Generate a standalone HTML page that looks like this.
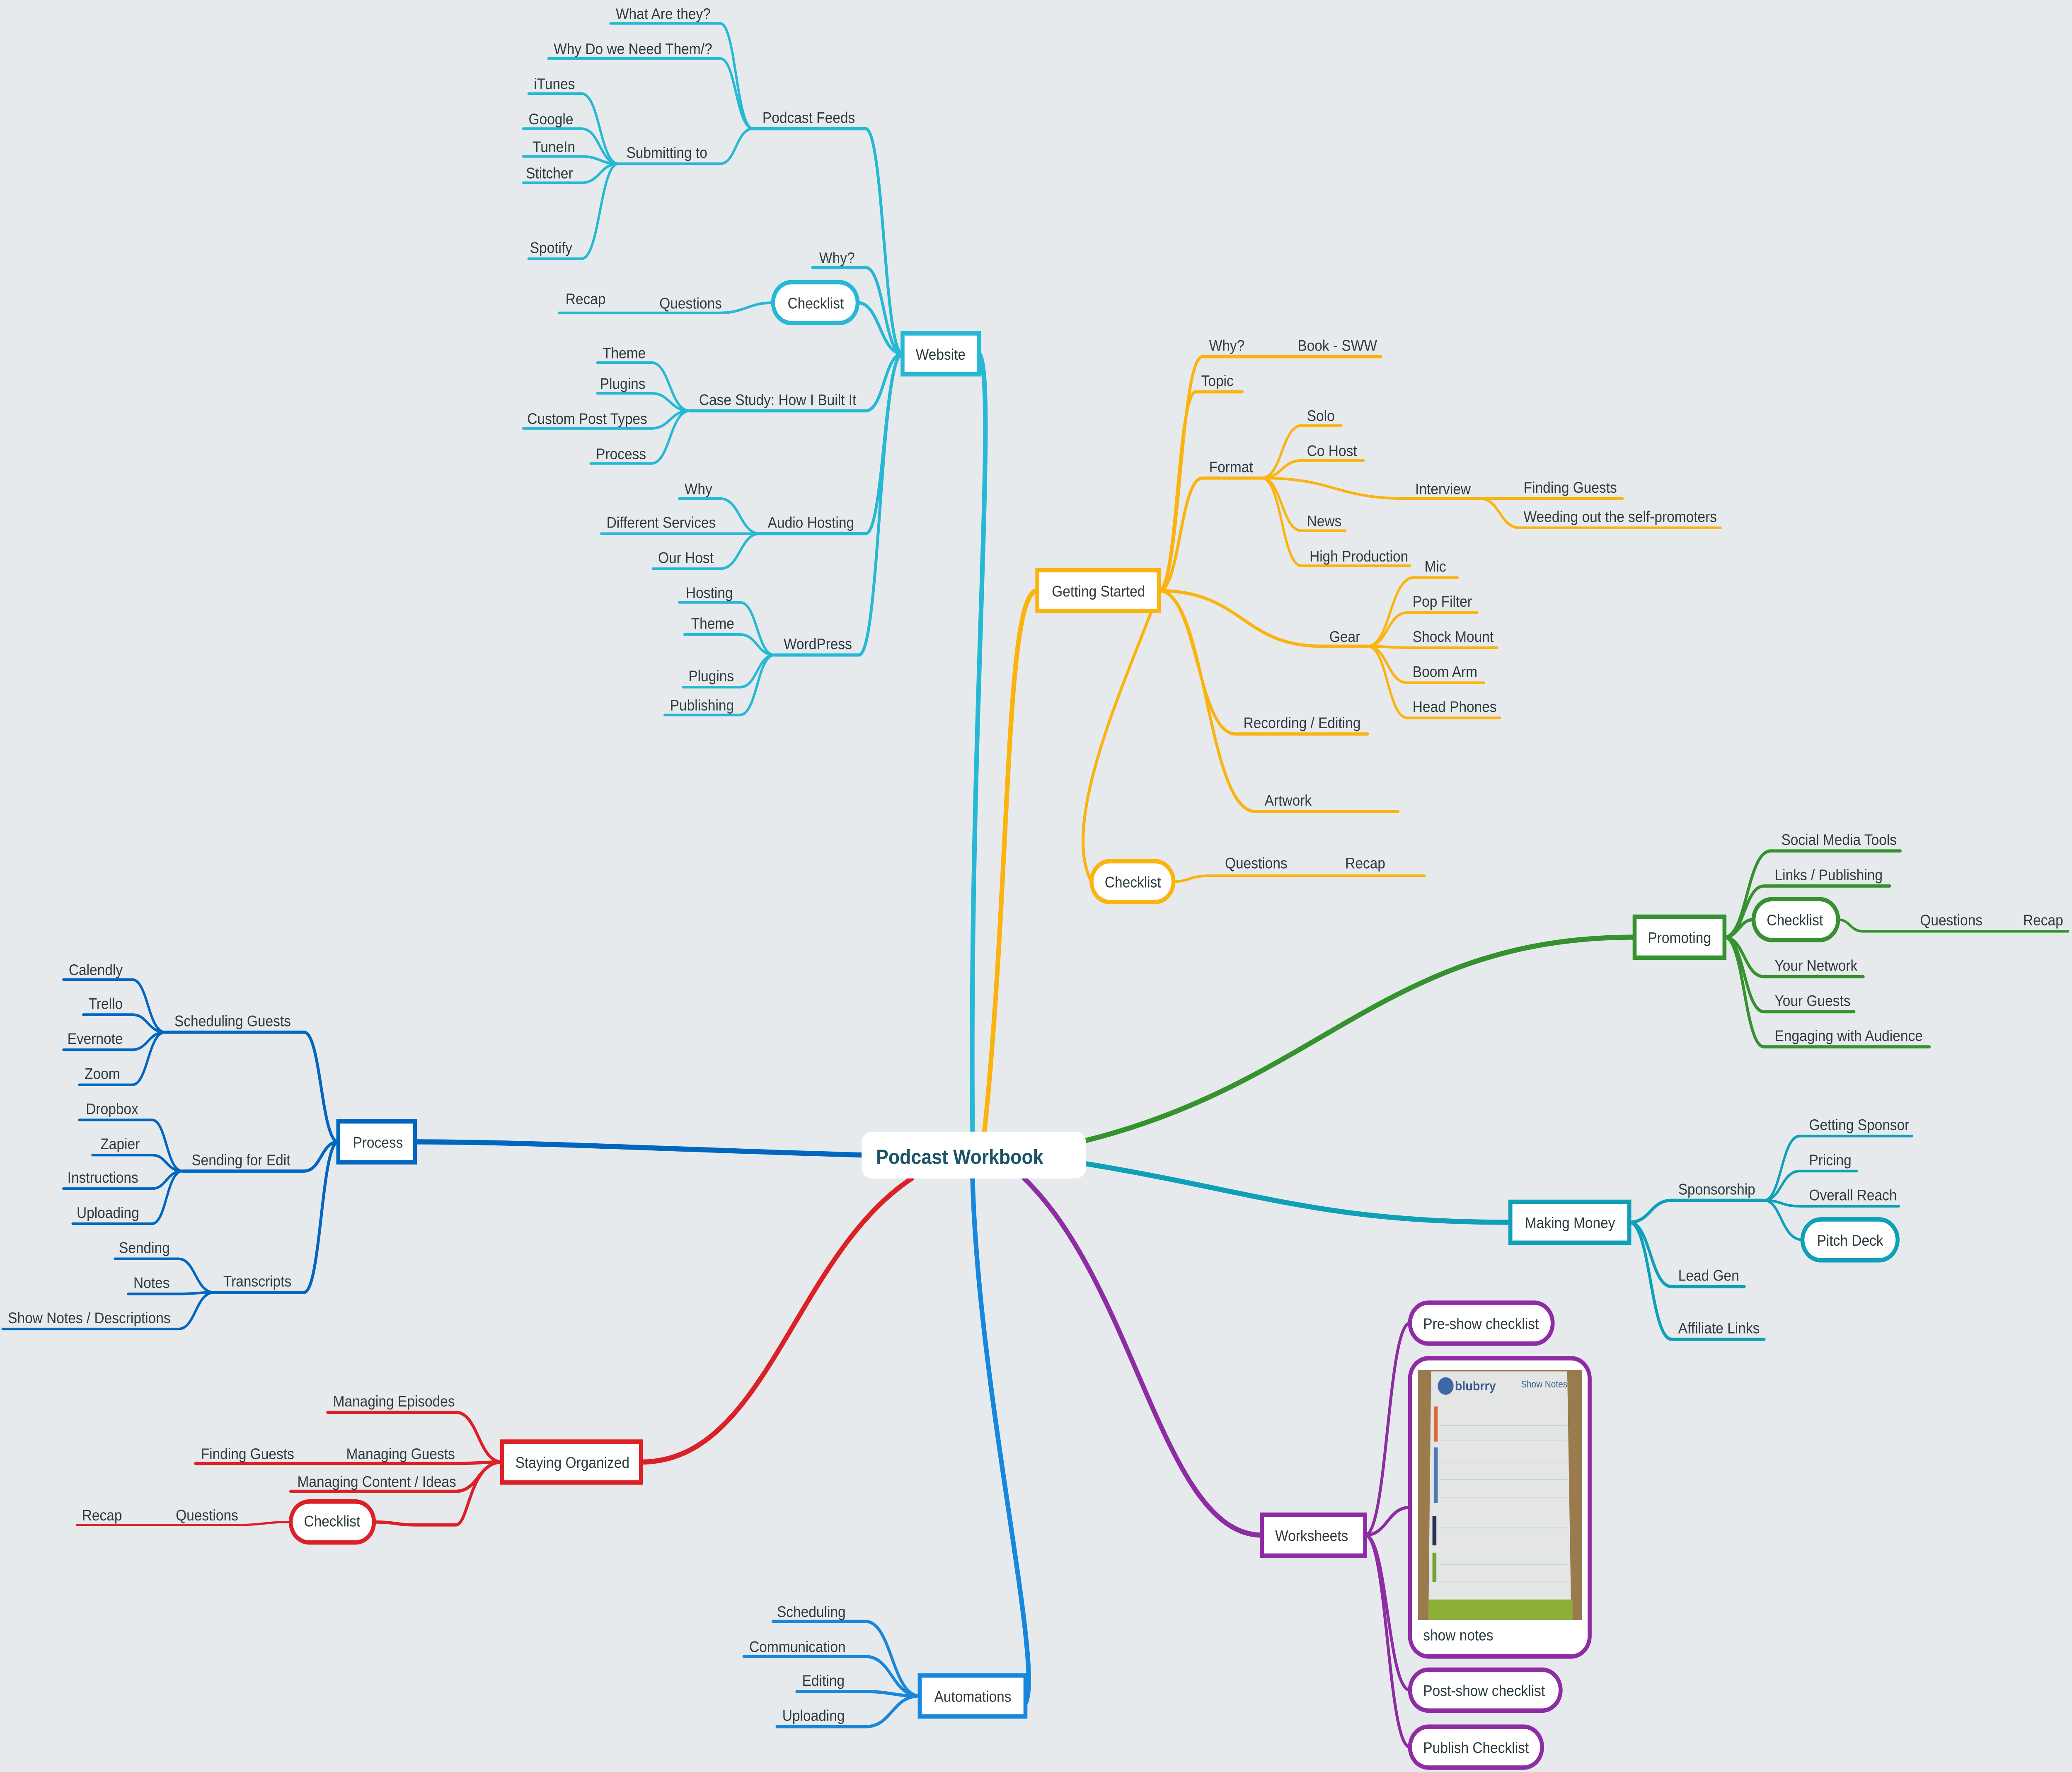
<!DOCTYPE html>
<html><head><meta charset="utf-8"><style>
html,body{margin:0;padding:0;background:#e6eaed;overflow:hidden;width:100%;height:100%;}
svg{display:block;position:fixed;left:0;top:0;width:100vw;height:100vh;}
text{font-family:"Liberation Sans",sans-serif;font-size:10.5px;fill:#2d3a40;}
</style></head><body>
<svg viewBox="0 0 1568 1212" preserveAspectRatio="none" xmlns="http://www.w3.org/2000/svg">
<rect width="1568" height="1212" fill="#e6eaed"/>
<g fill="none" stroke-linecap="round">
<path d="M736,774 C733,500 755,260 741,242" stroke="#26b8d4" stroke-width="3.5"/>
<path d="M745,774 C765,600 760,404 785,404" stroke="#fbb30f" stroke-width="3.5"/>
<path d="M822,780 C1000,740 1050,641 1237,641" stroke="#35922f" stroke-width="3.5"/>
<path d="M822,796 C950,815 1000,836 1143,836" stroke="#0fa0b8" stroke-width="3.5"/>
<path d="M775,806 C860,880 880,1050 955,1050" stroke="#8e2ca3" stroke-width="3.5"/>
<path d="M736,806 C740,950 790,1140 776,1165" stroke="#1787dd" stroke-width="3.5"/>
<path d="M690,806 C600,860 580,1000 485,1000" stroke="#dc2027" stroke-width="3.5"/>
<path d="M652,790 C500,786 400,781 314,781" stroke="#0066c0" stroke-width="3.5"/>

<g stroke="#26b8d4" stroke-width="2.2">
<path d="M683,242 C669,242 669,88 655,88 H570"/>
<path d="M683,242 C669,242 669,183 655,183 H615"/>
<path d="M683,242 C666,242 666,207 649,207"/>
<path d="M683,242 C669,242 669,281 655,281 H522"/>
<path d="M683,242 C669,242 669,365 655,365 H575"/>
<path d="M683,242 C666,242 666,448 650,448 H586"/>
</g>
<g stroke="#26b8d4" stroke-width="1.8">
<path d="M570,88 C557,88 557,16 545,16 H462"/>
<path d="M570,88 C557,88 557,40 545,40 H415"/>
<path d="M570,88 C557,88 557,112 545,112 H468"/>
<path d="M468,112 C454,112 454,64 440,64 H400"/>
<path d="M468,112 C454,112 454,88 440,88 H396"/>
<path d="M468,112 C454,112 454,107 440,107 H396"/>
<path d="M468,112 C454,112 454,125 440,125 H396"/>
<path d="M468,112 C454,112 454,177 440,177 H400"/>
<path d="M585,207 C567,207 563,214 545,214 H423"/>
<path d="M522,281 C507,281 507,248 493,248 H452"/>
<path d="M522,281 C507,281 507,269 493,269 H452"/>
<path d="M522,281 C507,281 507,293 493,293 H396"/>
<path d="M522,281 C507,281 507,317 493,317 H447"/>
<path d="M575,365 C560,365 560,341 545,341 H514"/>
<path d="M575,365 C560,365 560,365 545,365 H455"/>
<path d="M575,365 C560,365 560,389 545,389 H494"/>
<path d="M586,448 C573,448 573,412 560,412 H514"/>
<path d="M586,448 C573,448 573,434 560,434 H518"/>
<path d="M586,448 C573,448 573,470 560,470 H517"/>
<path d="M586,448 C573,448 573,489 560,489 H503"/>
</g>

<g stroke="#fbb30f" stroke-width="2.2">
<path d="M877,404 C893,404 893,244 910,244 H1045"/>
<path d="M877,404 C891,404 891,268 905,268 H940"/>
<path d="M877,404 C893,404 893,327 910,327 H955"/>
<path d="M877,404 C940,404 940,442 1000,442 H1035"/>
<path d="M877,404 C906,404 906,502 935,502 H1035"/>
<path d="M877,404 C913,404 913,555 950,555 H1058"/>
<path d="M877,404 C860,450 800,560 826,603"/>
</g>
<g stroke="#fbb30f" stroke-width="1.8">
<path d="M955,327 C970,327 970,291 985,291 H1015"/>
<path d="M955,327 C970,327 970,315 985,315 H1032"/>
<path d="M955,327 C1010,327 1010,341 1065,341 H1120"/>
<path d="M955,327 C970,327 970,363 985,363 H1018"/>
<path d="M955,327 C970,327 970,387 985,387 H1067"/>
<path d="M1120,341 C1135,341 1135,341 1150,341 H1228"/>
<path d="M1120,341 C1135,341 1135,361 1150,361 H1302"/>
<path d="M1035,442 C1052,442 1052,395 1070,395 H1103"/>
<path d="M1035,442 C1050,442 1050,419 1065,419 H1118"/>
<path d="M1035,442 C1050,442 1050,443 1065,443 H1133"/>
<path d="M1035,442 C1050,442 1050,467 1065,467 H1123"/>
<path d="M1035,442 C1050,442 1050,491 1065,491 H1135"/>
<path d="M888,603 C900,603 900,599 915,599 H1078"/>
</g>

<g stroke="#35922f" stroke-width="2.2">
<path d="M1305,641 C1322,641 1322,582 1340,582 H1438"/>
<path d="M1305,641 C1320,641 1320,606 1335,606 H1430"/>
<path d="M1305,641 C1316,641 1316,629 1327,629"/>
<path d="M1305,641 C1320,641 1320,668 1335,668 H1410"/>
<path d="M1305,641 C1320,641 1320,692 1335,692 H1403"/>
<path d="M1305,641 C1320,641 1320,716 1335,716 H1460"/>
</g>
<path d="M1391,629 C1400,629 1400,637 1410,637 H1565" stroke="#35922f" stroke-width="1.8"/>

<g stroke="#0fa0b8" stroke-width="2.2">
<path d="M1233,836 C1249,836 1249,821 1265,821 H1335"/>
<path d="M1233,836 C1249,836 1249,880 1265,880 H1320"/>
<path d="M1233,836 C1249,836 1249,916 1265,916 H1335"/>
</g>
<g stroke="#0fa0b8" stroke-width="1.8">
<path d="M1335,821 C1348,821 1348,777 1362,777 H1447"/>
<path d="M1335,821 C1348,821 1348,801 1362,801 H1405"/>
<path d="M1335,821 C1348,821 1348,825 1362,825 H1437"/>
<path d="M1335,821 C1348,821 1348,848 1364,848"/>
</g>

<g stroke="#8e2ca3" stroke-width="2.2">
<path d="M1033,1050 C1050,1050 1050,905 1067,905"/>
<path d="M1033,1050 C1050,1050 1050,1031 1067,1031"/>
<path d="M1033,1050 C1050,1050 1050,1156 1067,1156"/>
<path d="M1033,1050 C1050,1050 1050,1195 1067,1195"/>
</g>

<g stroke="#1787dd" stroke-width="2.2">
<path d="M696,1160 C675,1160 675,1109 655,1109 H585"/>
<path d="M696,1160 C675,1160 675,1133 655,1133 H563"/>
<path d="M696,1160 C675,1160 675,1157 655,1157 H603"/>
<path d="M696,1160 C675,1160 675,1181 655,1181 H588"/>
</g>

<g stroke="#dc2027" stroke-width="2.2">
<path d="M380,1000 C362,1000 362,966 345,966 H248"/>
<path d="M380,1000 C362,1000 362,1001 345,1001 H148"/>
<path d="M380,1000 C362,1000 362,1020 345,1020 H220"/>
<path d="M380,1000 C355,1000 355,1043 345,1043 H315 C300,1043 298,1041 283,1041"/>
</g>
<path d="M220,1041 C200,1041 200,1043 180,1043 H58" stroke="#dc2027" stroke-width="1.5"/>

<g stroke="#0066c0" stroke-width="2.2">
<path d="M256,781 C243,781 243,706 230,706 H125"/>
<path d="M256,781 C243,781 243,801 230,801 H138"/>
<path d="M256,781 C243,781 243,884 230,884 H162"/>
</g>
<g stroke="#0066c0" stroke-width="1.8">
<path d="M125,706 C112,706 112,670 100,670 H48"/>
<path d="M125,706 C112,706 112,694 100,694 H63"/>
<path d="M125,706 C112,706 112,718 100,718 H48"/>
<path d="M125,706 C112,706 112,742 100,742 H60"/>
<path d="M138,801 C126,801 126,766 115,766 H60"/>
<path d="M138,801 C126,801 126,790 115,790 H70"/>
<path d="M138,801 C126,801 126,813 115,813 H48"/>
<path d="M138,801 C126,801 126,837 115,837 H55"/>
<path d="M162,884 C148,884 148,861 135,861 H87"/>
<path d="M162,884 C148,884 148,885 135,885 H97"/>
<path d="M162,884 C148,884 148,909 135,909 H2"/>
</g>
</g>

<g fill="#fff" stroke-width="3">
<rect x="652" y="774" width="170" height="32" rx="8" stroke="none"/>
<rect x="683" y="228" width="58" height="28" stroke="#26b8d4"/>
<rect x="585" y="193" width="64" height="28" rx="14" stroke="#26b8d4"/>
<rect x="785" y="390" width="92" height="28" stroke="#fbb30f"/>
<rect x="826" y="589" width="62" height="28" rx="14" stroke="#fbb30f"/>
<rect x="1237" y="627" width="68" height="28" stroke="#35922f"/>
<rect x="1327" y="615" width="64" height="28" rx="14" stroke="#35922f"/>
<rect x="1143" y="822" width="90" height="28" stroke="#0fa0b8"/>
<rect x="1364" y="834" width="72" height="28" rx="14" stroke="#0fa0b8"/>
<rect x="955" y="1036" width="78" height="28" stroke="#8e2ca3"/>
<rect x="1067" y="891" width="108" height="28" rx="14" stroke="#8e2ca3"/>
<rect x="1067" y="929" width="136" height="204" rx="14" stroke="#8e2ca3"/>
<rect x="1067" y="1142" width="114" height="28" rx="14" stroke="#8e2ca3"/>
<rect x="1067" y="1181" width="100" height="28" rx="14" stroke="#8e2ca3"/>
<rect x="696" y="1146" width="80" height="28" stroke="#1787dd"/>
<rect x="380" y="986" width="105" height="28" stroke="#dc2027"/>
<rect x="220" y="1027" width="63" height="28" rx="14" stroke="#dc2027"/>
<rect x="256" y="767" width="58" height="28" stroke="#0066c0"/>
</g>

<rect x="1073" y="937" width="124" height="171" fill="#9a7b4e"/>
<polygon points="1083,938 1186,938 1189,1105 1081,1105" fill="#e4e6e6"/>
<polygon points="1081,1094 1190,1094 1190,1108 1081,1108" fill="#8fae3a"/>
<circle cx="1094" cy="948" r="6" fill="#3d6aa6"/>
<text x="1101" y="951" style="font-size:9px;font-weight:bold;fill:#3a5a90">blubrry</text>
<text x="1151" y="949" style="font-size:6.5px;fill:#3a5a90">Show Notes</text>
<rect x="1085" y="962" width="3" height="24" fill="#d96a37"/>
<rect x="1085" y="990" width="3" height="38" fill="#4a78b5"/>
<rect x="1084" y="1037" width="3" height="20" fill="#23324f"/>
<rect x="1084" y="1062" width="3" height="20" fill="#7aa232"/>
<g stroke="#c9d0d6" stroke-width="0.5">
<line x1="1090" y1="975" x2="1186" y2="975"/><line x1="1090" y1="985" x2="1186" y2="985"/>
<line x1="1090" y1="1000" x2="1186" y2="1000"/><line x1="1090" y1="1012" x2="1186" y2="1012"/>
<line x1="1090" y1="1024" x2="1186" y2="1024"/><line x1="1090" y1="1045" x2="1186" y2="1045"/>
<line x1="1090" y1="1070" x2="1186" y2="1070"/><line x1="1090" y1="1082" x2="1186" y2="1082"/>
</g>
<text x="1077" y="1122">show notes</text>

<text x="663" y="796" style="font-size:14px;font-weight:bold;fill:#1b5468">Podcast Workbook</text>
<text x="693" y="246">Website</text>
<text x="596" y="211">Checklist</text>
<text x="796" y="408">Getting Started</text>
<text x="836" y="607">Checklist</text>
<text x="1247" y="645">Promoting</text>
<text x="1337" y="633">Checklist</text>
<text x="1154" y="840">Making Money</text>
<text x="1375" y="852">Pitch Deck</text>
<text x="965" y="1054">Worksheets</text>
<text x="1077" y="909">Pre-show checklist</text>
<text x="1077" y="1160">Post-show checklist</text>
<text x="1077" y="1199">Publish Checklist</text>
<text x="707" y="1164">Automations</text>
<text x="390" y="1004">Staying Organized</text>
<text x="230" y="1044">Checklist</text>
<text x="267" y="785">Process</text>

<text x="466" y="13">What Are they?</text>
<text x="419" y="37">Why Do we Need Them/?</text>
<text x="577" y="84">Podcast Feeds</text>
<text x="474" y="108">Submitting to</text>
<text x="404" y="61">iTunes</text>
<text x="400" y="85">Google</text>
<text x="403" y="104">TuneIn</text>
<text x="398" y="122">Stitcher</text>
<text x="401" y="173">Spotify</text>
<text x="620" y="180">Why?</text>
<text x="499" y="211">Questions</text>
<text x="428" y="208">Recap</text>
<text x="529" y="277">Case Study: How I Built It</text>
<text x="456" y="245">Theme</text>
<text x="454" y="266">Plugins</text>
<text x="399" y="290">Custom Post Types</text>
<text x="451" y="314">Process</text>
<text x="581" y="361">Audio Hosting</text>
<text x="518" y="338">Why</text>
<text x="459" y="361">Different Services</text>
<text x="498" y="385">Our Host</text>
<text x="593" y="444">WordPress</text>
<text x="519" y="409">Hosting</text>
<text x="523" y="430">Theme</text>
<text x="521" y="466">Plugins</text>
<text x="507" y="486">Publishing</text>

<text x="915" y="240">Why?</text>
<text x="982" y="240">Book - SWW</text>
<text x="909" y="264">Topic</text>
<text x="915" y="323">Format</text>
<text x="989" y="288">Solo</text>
<text x="989" y="312">Co Host</text>
<text x="1071" y="338">Interview</text>
<text x="1153" y="337">Finding Guests</text>
<text x="1153" y="357">Weeding out the self-promoters</text>
<text x="989" y="360">News</text>
<text x="991" y="384">High Production</text>
<text x="1006" y="439">Gear</text>
<text x="1078" y="391">Mic</text>
<text x="1069" y="415">Pop Filter</text>
<text x="1069" y="439">Shock Mount</text>
<text x="1069" y="463">Boom Arm</text>
<text x="1069" y="487">Head Phones</text>
<text x="941" y="498">Recording / Editing</text>
<text x="957" y="551">Artwork</text>
<text x="927" y="594">Questions</text>
<text x="1018" y="594">Recap</text>

<text x="1348" y="578">Social Media Tools</text>
<text x="1343" y="602">Links / Publishing</text>
<text x="1453" y="633">Questions</text>
<text x="1531" y="633">Recap</text>
<text x="1343" y="664">Your Network</text>
<text x="1343" y="688">Your Guests</text>
<text x="1343" y="712">Engaging with Audience</text>

<text x="1270" y="817">Sponsorship</text>
<text x="1369" y="773">Getting Sponsor</text>
<text x="1369" y="797">Pricing</text>
<text x="1369" y="821">Overall Reach</text>
<text x="1270" y="876">Lead Gen</text>
<text x="1270" y="912">Affiliate Links</text>

<text x="588" y="1106">Scheduling</text>
<text x="567" y="1130">Communication</text>
<text x="607" y="1153">Editing</text>
<text x="592" y="1177">Uploading</text>

<text x="252" y="962">Managing Episodes</text>
<text x="262" y="998">Managing Guests</text>
<text x="152" y="998">Finding Guests</text>
<text x="225" y="1017">Managing Content / Ideas</text>
<text x="133" y="1040">Questions</text>
<text x="62" y="1040">Recap</text>

<text x="132" y="702">Scheduling Guests</text>
<text x="52" y="667">Calendly</text>
<text x="67" y="690">Trello</text>
<text x="51" y="714">Evernote</text>
<text x="64" y="738">Zoom</text>
<text x="145" y="797">Sending for Edit</text>
<text x="65" y="762">Dropbox</text>
<text x="76" y="786">Zapier</text>
<text x="51" y="809">Instructions</text>
<text x="58" y="833">Uploading</text>
<text x="169" y="880">Transcripts</text>
<text x="90" y="857">Sending</text>
<text x="101" y="881">Notes</text>
<text x="6" y="905">Show Notes / Descriptions</text>
</svg>
</body></html>
